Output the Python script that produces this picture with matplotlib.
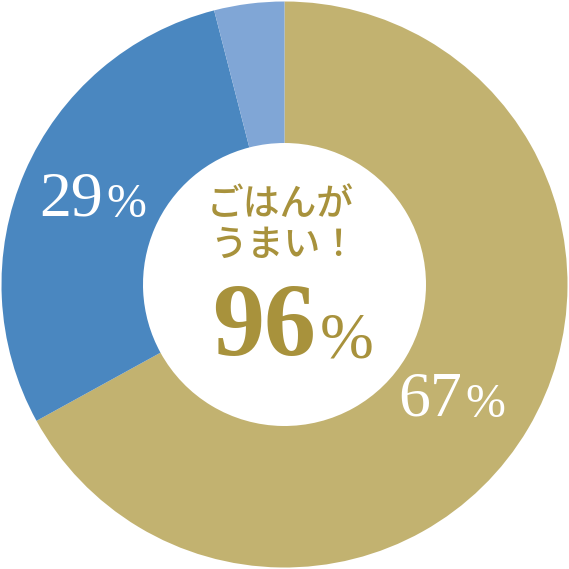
import matplotlib
matplotlib.use("Agg")
import matplotlib.pyplot as plt

categories = ["うまい", "まあまあうまい", "その他"]
values = [67, 29, 4]
labels_shown = ["67", "29", None]
center_title = "ごはんが\nうまい！"
center_value = "96"

colors = ["#C2B270", "#4A87C0", "#80A6D6"]
text_gold = "#A8923C"

fig = plt.figure(figsize=(5.69, 5.69), dpi=100)
ax = fig.add_axes([0, 0, 1, 1])
R = 1.0
ax.pie(values, colors=colors, startangle=90, counterclock=False, radius=R,
       wedgeprops=dict(width=0.5, edgecolor="none", linewidth=0))
lim = 284.5 / 283.0
ax.set_xlim(-lim, lim)
ax.set_ylim(-lim, lim)
ax.set_aspect("equal")
ax.axis("off")

def px(x, y):
    return ((x - 284.5) / 283.0, (284.5 - y) / 283.0)

serif = ["Liberation Serif", "DejaVu Serif"]
jp = ["Noto Sans CJK JP", "DejaVu Sans"]

def pct(xr, yb, num, size, color, weight="normal", pct_scale=0.75, gap=3, pdy=2):
    ax.text(*px(xr, yb), num, ha="right", va="baseline", fontsize=size,
            family=serif, color=color, weight=weight)
    ax.text(*px(xr + gap, yb + pdy), "%", ha="left", va="baseline",
            fontsize=size * pct_scale, family=serif, color=color)

pct(103, 215, labels_shown[1], 46, "white")
pct(462, 415, labels_shown[0], 46, "white")
pct(316, 355, center_value, 75, text_gold, weight="bold", pct_scale=0.62, gap=4, pdy=3)

line1, line2 = center_title.split("\n")
ax.text(*px(280, 204), line1, ha="center", va="center", fontsize=26.5,
        family=jp, color=text_gold, weight="medium")
ax.text(*px(284, 245), line2, ha="center", va="center", fontsize=26.5,
        family=jp, color=text_gold, weight="medium")

fig.savefig("out.png", dpi=100, facecolor="white")
